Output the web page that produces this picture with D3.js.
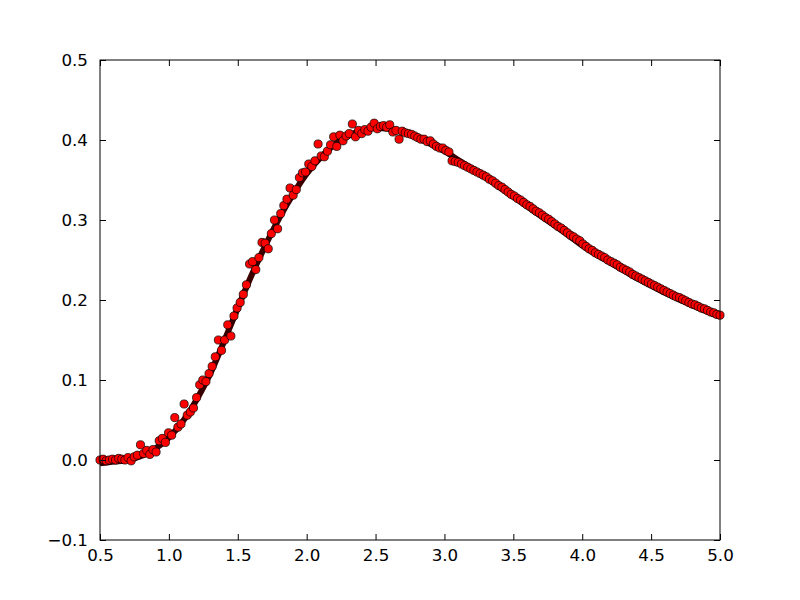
<!DOCTYPE html>
<html>
<head>
<meta charset="utf-8">
<script src="https://cdn.jsdelivr.net/npm/d3@7/dist/d3.min.js"></script>
<style>
  body { margin: 0; background: #fff; }
  svg { display: block; }
  .tick text { font-family: "DejaVu Sans", sans-serif; font-size: 16.7px; fill: #000; }
</style>
</head>
<body>
<svg id="chart"></svg>
<script>
// sample grid (200 evenly spaced samples between xStart and xEnd)
var xStart = 0.5, xEnd = 5.0;

var measured = [
  0.000, 0.001, -0.001, 0.000, 0.001, 0.000, 0.002, 0.001, 0.000, 0.003,
  -0.001, 0.004, 0.006, 0.019, 0.008, 0.012, 0.007, 0.013, 0.010, 0.024,
  0.027, 0.022, 0.034, 0.031, 0.053, 0.041, 0.045, 0.070, 0.056, 0.060,
  0.065, 0.078, 0.094, 0.100, 0.098, 0.108, 0.117, 0.129, 0.150, 0.137,
  0.150, 0.169, 0.155, 0.180, 0.190, 0.197, 0.207, 0.219, 0.245, 0.248,
  0.238, 0.253, 0.272, 0.271, 0.264, 0.283, 0.300, 0.289, 0.308, 0.318,
  0.326, 0.340, 0.331, 0.338, 0.353, 0.359, 0.360, 0.370, 0.367, 0.374,
  0.395, 0.380, 0.379, 0.386, 0.394, 0.404, 0.392, 0.406, 0.399, 0.405,
  0.408, 0.420, 0.404, 0.412, 0.408, 0.413, 0.411, 0.416, 0.421, 0.414,
  0.417, 0.418, 0.416, 0.419, 0.410, 0.412, 0.401, 0.411, 0.409, 0.408,
  0.407, 0.405, 0.403, 0.401, 0.401, 0.398, 0.399, 0.395, 0.392, 0.390,
  0.390, 0.387, 0.385, 0.374, 0.373, 0.372, 0.370, 0.368, 0.366, 0.364,
  0.362, 0.360, 0.358, 0.356, 0.354, 0.351, 0.349, 0.346, 0.343, 0.341,
  0.338, 0.335, 0.332, 0.330, 0.327, 0.325, 0.322, 0.319, 0.317, 0.314,
  0.311, 0.309, 0.306, 0.303, 0.301, 0.298, 0.295, 0.292, 0.290, 0.287,
  0.284, 0.281, 0.279, 0.276, 0.274, 0.270, 0.267, 0.264, 0.262, 0.259,
  0.257, 0.255, 0.253, 0.250, 0.248, 0.246, 0.244, 0.241, 0.239, 0.237,
  0.235, 0.232, 0.230, 0.228, 0.226, 0.224, 0.222, 0.220, 0.218, 0.216,
  0.214, 0.212, 0.210, 0.208, 0.206, 0.204, 0.203, 0.201, 0.199, 0.197,
  0.195, 0.194, 0.192, 0.190, 0.189, 0.187, 0.185, 0.184, 0.182, 0.181
];

// smooth curve under the points
var fitX = [0.5, 0.6, 0.7, 0.8, 0.9, 1.0, 1.1, 1.2, 1.3, 1.4, 1.5, 1.6, 1.7, 1.8, 1.9,
            2.0, 2.1, 2.2, 2.3, 2.4, 2.5, 2.6, 2.7, 2.8, 2.9, 3.0, 3.1, 3.2, 3.3, 3.4,
            3.5, 3.6, 3.7, 3.8, 3.9, 4.0, 4.1, 4.2, 4.3, 4.4, 4.5, 4.6, 4.7, 4.8, 4.9, 5.0];
var fitY = [-0.004, -0.002, 0.000, 0.005, 0.014, 0.028, 0.048, 0.075, 0.108, 0.148,
            0.190, 0.231, 0.268, 0.302, 0.332, 0.358, 0.378, 0.394, 0.405, 0.412,
            0.415, 0.414, 0.410, 0.403, 0.395, 0.386, 0.375, 0.364, 0.353, 0.341,
            0.329, 0.317, 0.305, 0.293, 0.281, 0.268, 0.257, 0.247, 0.237, 0.227,
            0.218, 0.209, 0.201, 0.193, 0.186, 0.179];

var xTicks = [0.5, 1.0, 1.5, 2.0, 2.5, 3.0, 3.5, 4.0, 4.5, 5.0];
var yTicks = [-0.1, 0.0, 0.1, 0.2, 0.3, 0.4, 0.5];

var width = 800, height = 600;
var margin = {top: 60, right: 80, bottom: 60, left: 100};

var svg = d3.select("#chart")
    .attr("width", width)
    .attr("height", height);

var xScale = d3.scaleLinear()
    .domain([xStart, xEnd])
    .range([margin.left, width - margin.right]);

var yScale = d3.scaleLinear()
    .domain([-0.1, 0.5])
    .range([height - margin.bottom, margin.top]);

var fmt = function(d){ return d3.format(".1f")(d).replace("-", "\u2212"); };

var plot = svg.append("g");

// fit line
var line = d3.line()
    .x(function(d, i){ return xScale(fitX[i]); })
    .y(function(d){ return yScale(d); })
    .curve(d3.curveMonotoneX);

plot.append("path")
    .datum(fitY)
    .attr("d", line)
    .attr("fill", "none")
    .attr("stroke", "#3a0000")
    .attr("stroke-width", 6);

// points
var n = measured.length;
plot.selectAll("circle")
    .data(measured)
    .enter()
    .append("circle")
    .attr("cx", function(d, i){ return xScale(xStart + i * (xEnd - xStart) / (n - 1)); })
    .attr("cy", function(d){ return yScale(d); })
    .attr("r", 4.1)
    .attr("fill", "#ff0000")
    .attr("stroke", "#000")
    .attr("stroke-width", 0.7);

// axes, ticks pointing inward on all four sides
svg.append("g")
    .attr("transform", "translate(0," + (height - margin.bottom) + ")")
    .call(d3.axisBottom(xScale).tickValues(xTicks).tickFormat(fmt).tickSizeInner(-6).tickSizeOuter(0).tickPadding(9));
svg.append("g")
    .attr("transform", "translate(0," + margin.top + ")")
    .call(d3.axisTop(xScale).tickValues(xTicks).tickFormat("").tickSizeInner(-6).tickSizeOuter(0));
svg.append("g")
    .attr("transform", "translate(" + margin.left + ",0)")
    .call(d3.axisLeft(yScale).tickValues(yTicks).tickFormat(fmt).tickSizeInner(-6).tickSizeOuter(0).tickPadding(12));
svg.append("g")
    .attr("transform", "translate(" + (width - margin.right) + ",0)")
    .call(d3.axisRight(yScale).tickValues(yTicks).tickFormat("").tickSizeInner(-6).tickSizeOuter(0));

svg.selectAll(".domain").remove();
svg.selectAll(".tick line").attr("stroke", "#000");

// frame
svg.append("rect")
    .attr("x", margin.left)
    .attr("y", margin.top)
    .attr("width", width - margin.left - margin.right)
    .attr("height", height - margin.top - margin.bottom)
    .attr("fill", "none")
    .attr("stroke", "#000")
    .attr("stroke-width", 1);
</script>
</body>
</html>
